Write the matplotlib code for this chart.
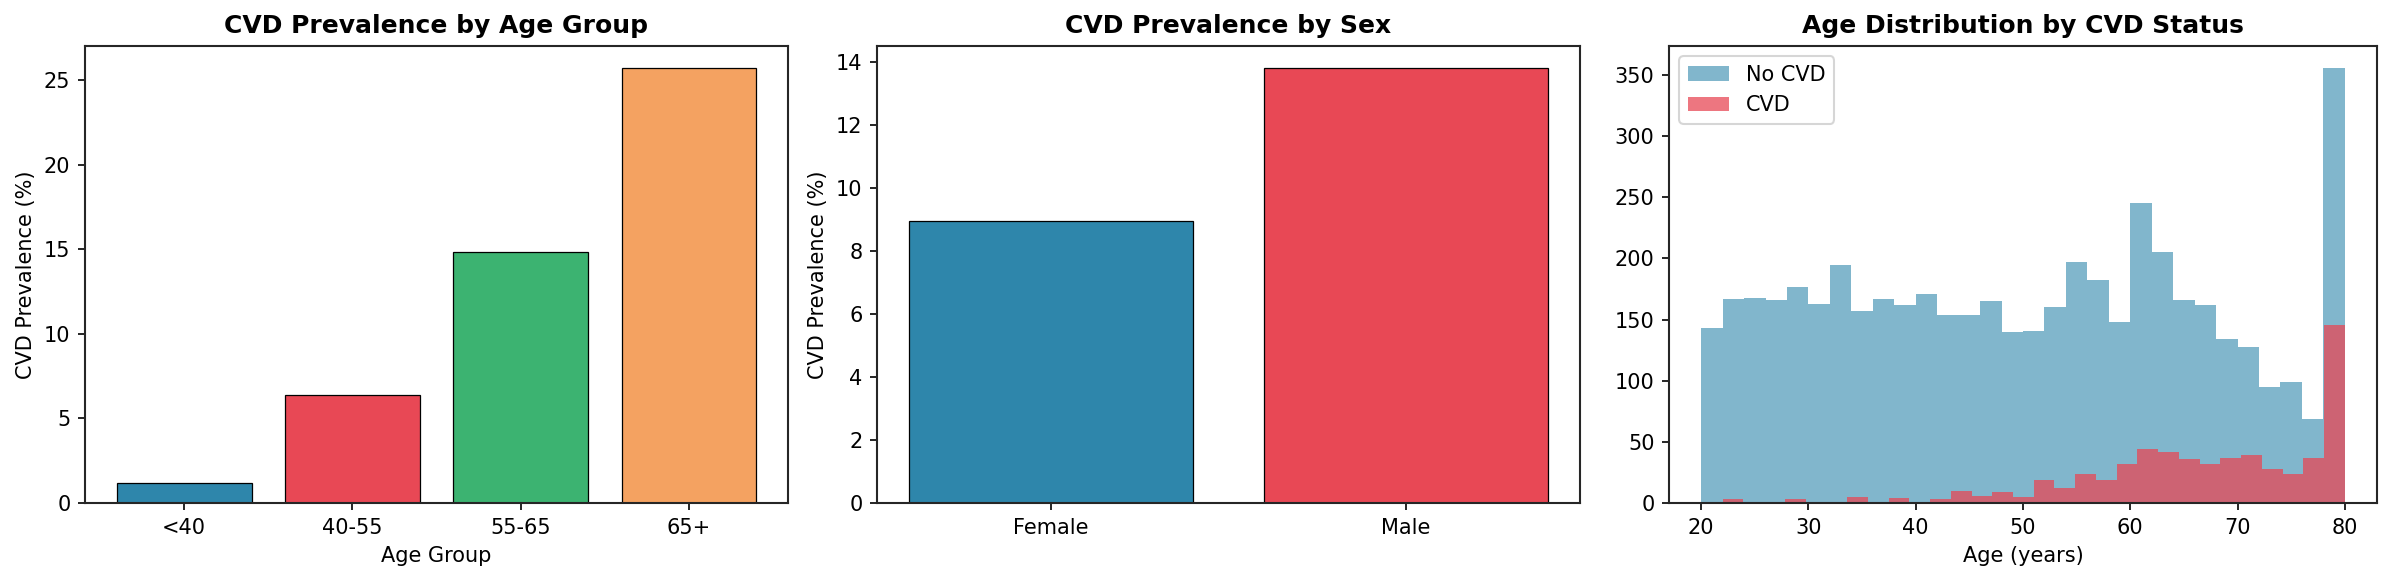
import numpy as np
import matplotlib
matplotlib.use("Agg")
import matplotlib.pyplot as plt

plt.rcParams['font.family'] = ['DejaVu Sans']
plt.rcParams['axes.edgecolor'] = '0.15'
plt.rcParams['axes.linewidth'] = 1.0

# Panel 1 data
age_groups = ["<40", "40-55", "55-65", "65+"]
age_prev = [1.21, 6.37, 14.84, 25.72]
age_colors = ["#2E86AB", "#E84855", "#3CB371", "#F4A261"]

# Panel 2 data
sexes = ["Female", "Male"]
sex_prev = [8.96, 13.82]
sex_colors = ["#2E86AB", "#E84855"]

# Panel 3 data (histogram counts)
nocvd_range = (20, 80)
nocvd_counts = [143, 167, 168, 166, 177, 163, 195, 157, 167, 162,
                171, 154, 154, 165, 140, 141, 160, 197, 182, 148,
                245, 205, 166, 162, 134, 128, 95, 99, 69, 356]
cvd_range = (22, 80)
cvd_counts = [3, 0, 0, 3, 0, 0, 5, 1, 4, 0,
              3, 10, 6, 9, 5, 19, 12, 24, 19, 32,
              44, 42, 36, 32, 37, 39, 28, 24, 37, 146]
n_bins = 30

W, H = 2384, 581
fig = plt.figure(figsize=(W / 150, H / 150), dpi=150)

def axes_px(left, right, top, bottom):
    return fig.add_axes([left / W, 1 - bottom / H, (right - left) / W, (bottom - top) / H])

ax1 = axes_px(85, 788, 46, 503)
ax2 = axes_px(877, 1580, 46, 503)
ax3 = axes_px(1669, 2377, 46, 503)

# Panel 1
ax1.bar(age_groups, age_prev, color=age_colors, edgecolor="black", linewidth=0.6)
ax1.set_title("CVD Prevalence by Age Group", fontsize=12, fontweight="bold")
ax1.set_xlabel("Age Group")
ax1.set_ylabel("CVD Prevalence (%)")

# Panel 2
ax2.bar(sexes, sex_prev, color=sex_colors, edgecolor="black", linewidth=0.6)
ax2.set_title("CVD Prevalence by Sex", fontsize=12, fontweight="bold")
ax2.set_ylabel("CVD Prevalence (%)")

# Panel 3
e_no = np.linspace(nocvd_range[0], nocvd_range[1], n_bins + 1)
e_cv = np.linspace(cvd_range[0], cvd_range[1], n_bins + 1)
ax3.hist((e_no[:-1] + e_no[1:]) / 2, bins=e_no, weights=nocvd_counts,
         color="#2E86AB", alpha=0.6, label="No CVD", edgecolor="none")
ax3.hist((e_cv[:-1] + e_cv[1:]) / 2, bins=e_cv, weights=cvd_counts,
         color="#E84855", alpha=0.75, label="CVD", edgecolor="none")
ax3.set_title("Age Distribution by CVD Status", fontsize=12, fontweight="bold")
ax3.set_xlabel("Age (years)")
ax3.legend(loc="upper left")

fig.savefig("out.png", dpi=150)
